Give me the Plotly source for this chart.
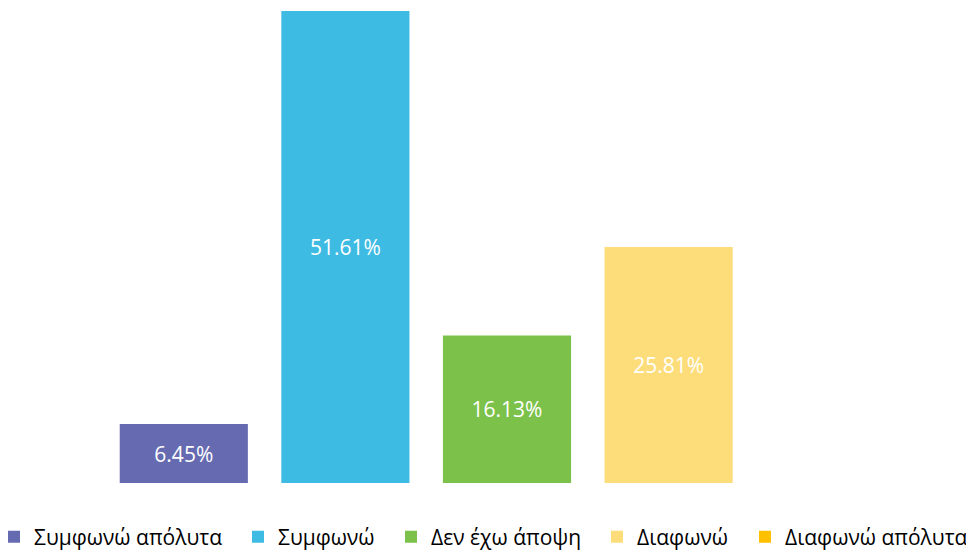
import plotly.graph_objects as go

categories = ["Συμφωνώ απόλυτα", "Συμφωνώ", "Δεν έχω άποψη", "Διαφωνώ", "Διαφωνώ απόλυτα"]
values = [6.45, 51.61, 16.13, 25.81, 0.0]
labels = ["6.45%", "51.61%", "16.13%", "25.81%", ""]
colors = ["#666BB1", "#3DBBE3", "#7CC24A", "#FDDC7A", "#FFC000"]
legend_text_x = [33, 277, 430, 636, 784]  # screen px where each legend text starts

FONT = "Open Sans"
W, H = 966, 544   # page body has an 8px margin
OFF = 8
ML, MR, MT, MB = 103 - OFF, W - (911 - OFF), 11 - OFF, H - (483 - OFF)
PW, PH = W - ML - MR, H - MT - MB

fig = go.Figure()
legend_layouts = {}
for i, (cat, v, lab, c) in enumerate(zip(categories, values, labels, colors)):
    lname = "legend" if i == 0 else f"legend{i+1}"
    fig.add_trace(go.Bar(
        x=[cat], y=[v], name=cat,
        marker=dict(color=c, line=dict(width=0)),
        text=[lab], textposition="inside", insidetextanchor="middle",
        textfont=dict(color="white", size=21, family=FONT),
        textangle=0,
        legend=lname,
    ))
    legend_layouts[lname] = dict(
        orientation="h", xref="paper", yref="paper",
        x=(legend_text_x[i] - 39 - OFF - ML) / PW, xanchor="left",
        y=((H - MB) - (537 - OFF)) / PH, yanchor="middle",
        font=dict(family=FONT, size=21, color="#000000"),
        itemwidth=30, itemclick=False, itemdoubleclick=False,
        bgcolor="rgba(0,0,0,0)", borderwidth=0,
    )

fig.update_layout(
    width=W, height=H,
    margin=dict(l=ML, r=MR, t=MT, b=MB, pad=0, autoexpand=False),
    barmode="overlay",
    bargap=0.207,
    plot_bgcolor="white", paper_bgcolor="white",
    font=dict(family=FONT, size=21, color="#000000"),
    xaxis=dict(visible=False, range=[-0.5, 4.5], categoryorder="array", categoryarray=categories),
    yaxis=dict(visible=False, range=[0, 51.61]),
    showlegend=True,
    **legend_layouts,
)

fig.write_html("out.html")
